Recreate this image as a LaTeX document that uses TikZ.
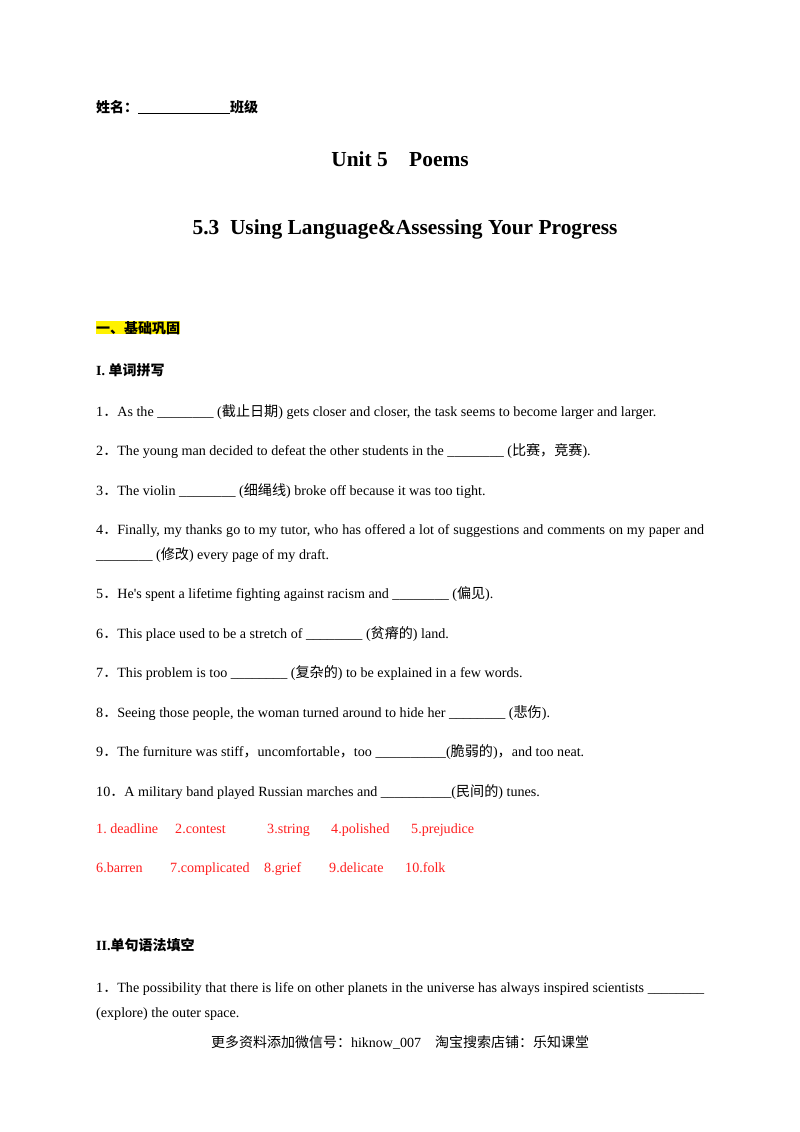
\documentclass[tikz,border=0pt]{standalone}
\usepackage{fontspec}
\setmainfont{Liberation Serif}
\newfontfamily\cjk{Noto Sans CJK SC}
\newfontfamily\cjkb{Noto Sans CJK SC Bold}
\newcommand{\zh}[1]{{\cjk #1}}
\newcommand{\zhb}[1]{{\cjkb #1}}
\definecolor{ansred}{HTML}{FF1F1F}
\hyphenpenalty=10000
\exhyphenpenalty=10000
\begin{document}
\begin{tikzpicture}[x=1pt,y=1pt,
  txt/.style={anchor=base west,inner sep=0pt,font=\fontsize{14.1}{25}\selectfont},
  par/.style={txt,text width=608pt,align=justify},
  head/.style={anchor=base west,inner sep=0pt,font=\fontsize{14}{25}\selectfont\bfseries},
  title/.style={anchor=base,inner sep=0pt,font=\fontsize{21.4}{24}\selectfont\bfseries},
  ans/.style={txt,text=ansred}]
\useasboundingbox[fill=white] (0,0) rectangle (800,-1132);
\node[head] (name) at (96,-112) {\zhb{姓名：}\rule[-1.5pt]{92pt}{0.6pt}\zhb{班级}};
\node[title] (t1) at (400,-166) {Unit 5\quad Poems};
\node[title] (t2) at (405,-234) {5.3\ \ Using Language\&Assessing Your Progress};
\node[head,fill=yellow] (s1) at (96,-333) {\zhb{一、基础巩固}};
\node[head] (s2) at (96,-375) {I.\ \zhb{单词拼写}};
\node[txt] (q1) at (96,-416) {1\zh{．}As the \_\_\_\_\_\_\_\_ (\zh{截止日期}) gets closer and closer, the task seems to become larger and larger.};
\node[txt] (q2) at (96,-455) {2\zh{．}The young man decided to defeat the other students in the \_\_\_\_\_\_\_\_ (\zh{比赛，竞赛}).};
\node[txt] (q3) at (96,-495) {3\zh{．}The violin \_\_\_\_\_\_\_\_ (\zh{细绳线}) broke off because it was too tight.};
\node[par] (q4) at (96,-534) {4\zh{．}Finally, my thanks go to my tutor, who has offered a lot of suggestions and comments on my paper and \_\_\_\_\_\_\_\_ (\zh{修改}) every page of my draft.};
\node[txt] (q5) at (96,-598) {5\zh{．}He\textquotesingle s spent a lifetime fighting against racism and \_\_\_\_\_\_\_\_ (\zh{偏见}).};
\node[txt] (q6) at (96,-638) {6\zh{．}This place used to be a stretch of \_\_\_\_\_\_\_\_ (\zh{贫瘠的}) land.};
\node[txt] (q7) at (96,-677) {7\zh{．}This problem is too \_\_\_\_\_\_\_\_ (\zh{复杂的}) to be explained in a few words.};
\node[txt] (q8) at (96,-717) {8\zh{．}Seeing those people, the woman turned around to hide her \_\_\_\_\_\_\_\_ (\zh{悲伤}).};
\node[txt] (q9) at (96,-756) {9\zh{．}The furniture was stiff\zh{，}uncomfortable\zh{，}too \_\_\_\_\_\_\_\_\_\_(\zh{脆弱的})\zh{，}and too neat.};
\node[txt] (q10) at (96,-796) {10\zh{．}A military band played Russian marches and \_\_\_\_\_\_\_\_\_\_(\zh{民间的}) tunes.};
\node[ans] (a1) at (96,-833) {1.\ deadline};
\node[ans] (a2) at (175,-833) {2.contest};
\node[ans] (a3) at (267,-833) {3.string};
\node[ans] (a4) at (331,-833) {4.polished};
\node[ans] (a5) at (411,-833) {5.prejudice};
\node[ans] (a6) at (96,-872) {6.barren};
\node[ans] (a7) at (170,-872) {7.complicated};
\node[ans] (a8) at (264,-872) {8.grief};
\node[ans] (a9) at (329,-872) {9.delicate};
\node[ans] (a10) at (405,-872) {10.folk};
\node[head] (s3) at (96,-950) {II.\zhb{单句语法填空}};
\node[par] (r1) at (96,-992) {1\zh{．}The possibility that there is life on other planets in the universe has always inspired scientists \_\_\_\_\_\_\_\_ (explore) the outer space.};
\node[anchor=base,inner sep=0pt,font=\fontsize{14}{16}\selectfont] (foot) at (400,-1047) {\zh{更多资料添加微信号：}hiknow\_007\quad \zh{淘宝搜索店铺：乐知课堂}};
\end{tikzpicture}
\end{document}
